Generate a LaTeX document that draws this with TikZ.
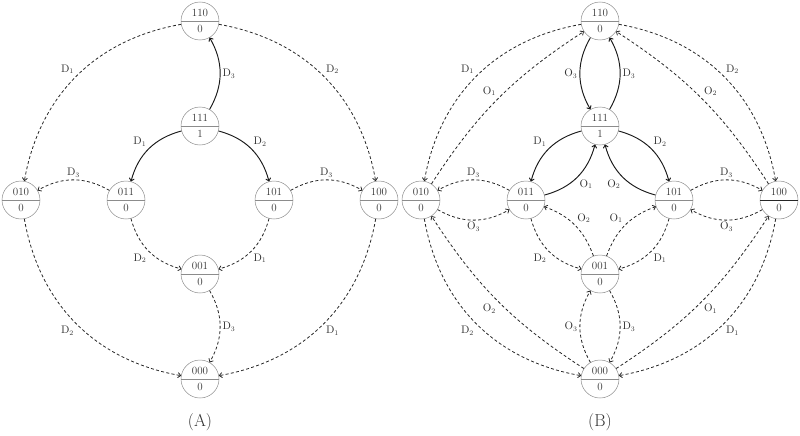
\documentclass[tikz,border=0pt]{standalone}
\usetikzlibrary{shapes.multipart,arrows.meta}
\begin{document}
\begin{tikzpicture}[x=1pt,y=-1pt,
  >={To[length=3.4pt,width=5.6pt]},
  st/.style={circle split, draw=black!45, line width=0.5pt, minimum size=38pt, inner sep=0pt, inner ysep=4pt, text=black!80, font=\fontsize{11}{13}\selectfont},
  d/.style={->, dash pattern=on 3pt off 2.3pt, line width=0.8pt, black!85},
  s/.style={->, line width=0.95pt, black!90},
  lab/.style={auto, inner sep=2pt, text=black!80, font=\fontsize{10.5}{12}\selectfont},
  captext/.style={font=\LARGE, text=black!80}]
\useasboundingbox (0,0) rectangle (800,436);
% ---------- (A) ----------
\node[st] (a110) at (200,21) {110\nodepart{lower}0};
\node[st] (a111) at (200,126) {111\nodepart{lower}1};
\node[st] (a011) at (126,200) {011\nodepart{lower}0};
\node[st] (a101) at (274,200) {101\nodepart{lower}0};
\node[st] (a010) at (21,200) {010\nodepart{lower}0};
\node[st] (a100) at (379,200) {100\nodepart{lower}0};
\node[st] (a001) at (200,274) {001\nodepart{lower}0};
\node[st] (a000) at (200,379) {000\nodepart{lower}0};
\node[captext] (acap) at (200,422) {(A)};
\draw[s] (a111) to[bend right=30] node[lab,swap] {$\mathrm{D}_3$} (a110);
\draw[s] (a111) to[bend right=30] node[lab,swap] {$\mathrm{D}_1$} (a011);
\draw[s] (a111) to[bend left=30] node[lab] {$\mathrm{D}_2$} (a101);
\draw[d] (a011) to[bend right=30] node[lab,swap] {$\mathrm{D}_3$} (a010);
\draw[d] (a101) to[bend left=30] node[lab] {$\mathrm{D}_3$} (a100);
\draw[d] (a110) to[bend right=35] node[lab,swap] {$\mathrm{D}_1$} (a010);
\draw[d] (a110) to[bend left=35] node[lab] {$\mathrm{D}_2$} (a100);
\draw[d] (a011) to[bend right=30] node[lab,swap] {$\mathrm{D}_2$} (a001);
\draw[d] (a101) to[bend left=30] node[lab] {$\mathrm{D}_1$} (a001);
\draw[d] (a001) to[bend left=30] node[lab] {$\mathrm{D}_3$} (a000);
\draw[d] (a010) to[bend right=35] node[lab,swap] {$\mathrm{D}_2$} (a000);
\draw[d] (a100) to[bend left=35] node[lab] {$\mathrm{D}_1$} (a000);
% ---------- (B) ----------
\node[st] (b110) at (600,21) {110\nodepart{lower}0};
\node[st] (b111) at (600,126) {111\nodepart{lower}1};
\node[st] (b011) at (526,200) {011\nodepart{lower}0};
\node[st] (b101) at (674,200) {101\nodepart{lower}0};
\node[st] (b010) at (421,200) {010\nodepart{lower}0};
\node[st] (b100) at (779,200) {100\nodepart{lower}0};
\node[st] (b001) at (600,274) {001\nodepart{lower}0};
\node[st] (b000) at (600,379) {000\nodepart{lower}0};
\node[captext] (bcap) at (600,422) {(B)};
\draw[black!85, line width=0.8pt] (b100.west) -- (b100.east);
\draw[s] (b111) to[bend right=30] node[lab,swap] {$\mathrm{D}_3$} (b110);
\draw[s] (b110) to[bend right=30] node[lab,swap] {$\mathrm{O}_3$} (b111);
\draw[s] (b111) to[bend right=30] node[lab,swap] {$\mathrm{D}_1$} (b011);
\draw[s] (b011) to[bend right=30] node[lab,swap] {$\mathrm{O}_1$} (b111);
\draw[s] (b111) to[bend left=30] node[lab] {$\mathrm{D}_2$} (b101);
\draw[s] (b101) to[bend left=30] node[lab] {$\mathrm{O}_2$} (b111);
\draw[d] (b011) to[bend right=30] node[lab,swap] {$\mathrm{D}_3$} (b010);
\draw[d] (b010) to[bend right=30] node[lab,swap] {$\mathrm{O}_3$} (b011);
\draw[d] (b101) to[bend left=30] node[lab] {$\mathrm{D}_3$} (b100);
\draw[d] (b100) to[bend left=30] node[lab] {$\mathrm{O}_3$} (b101);
\draw[d] (b110) to[bend right=35] node[lab,swap] {$\mathrm{D}_1$} (b010);
\draw[d] (b110) to[bend left=35] node[lab] {$\mathrm{D}_2$} (b100);
\draw[d] (b010) to[bend left=12] node[lab] {$\mathrm{O}_1$} (b110);
\draw[d] (b100) to[bend right=12] node[lab,swap] {$\mathrm{O}_2$} (b110);
\draw[d] (b011) to[bend right=30] node[lab,swap] {$\mathrm{D}_2$} (b001);
\draw[d] (b101) to[bend left=30] node[lab] {$\mathrm{D}_1$} (b001);
\draw[d] (b001) to[bend right=25] node[lab,swap] {$\mathrm{O}_2$} (b011);
\draw[d] (b001) to[bend left=25] node[lab] {$\mathrm{O}_1$} (b101);
\draw[d] (b001) to[bend left=30] node[lab] {$\mathrm{D}_3$} (b000);
\draw[d] (b000) to[bend left=30] node[lab] {$\mathrm{O}_3$} (b001);
\draw[d] (b010) to[bend right=35] node[lab,swap] {$\mathrm{D}_2$} (b000);
\draw[d] (b100) to[bend left=35] node[lab] {$\mathrm{D}_1$} (b000);
\draw[d] (b000) to[bend left=12] node[lab] {$\mathrm{O}_2$} (b010);
\draw[d] (b000) to[bend right=12] node[lab,swap] {$\mathrm{O}_1$} (b100);
\end{tikzpicture}
\end{document}
